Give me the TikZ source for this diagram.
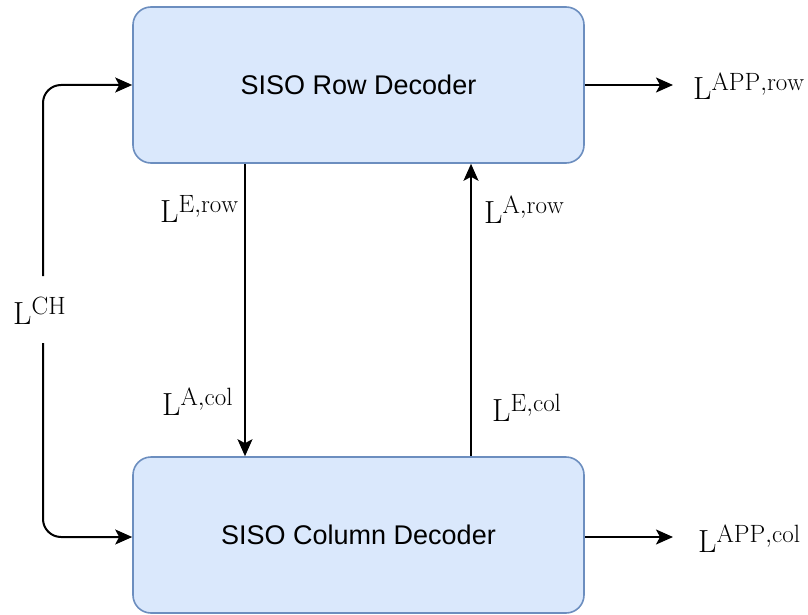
\documentclass[tikz,border=0pt]{standalone}
\usepackage{fontspec}
\newfontfamily\arialf{Liberation Sans}
\DeclareMathSizes{32}{32}{25}{18}
\usetikzlibrary{arrows.meta}
\definecolor{boxfill}{HTML}{DAE8FC}
\definecolor{boxdraw}{HTML}{6C8EBF}
\begin{document}
\begin{tikzpicture}[x=1pt,y=-1pt,
 decoder/.style={draw=boxdraw, fill=boxfill, line width=1.6pt, rounded corners=18pt, minimum width=451pt, minimum height=156pt, inner sep=0pt, font=\arialf\fontsize{27}{32}\selectfont},
 arr/.style={-{Stealth[length=17pt,width=15pt,inset=4pt]}, line width=2pt},
 lab/.style={anchor=base west, inner sep=0pt, font=\fontsize{32}{38}\selectfont}]
\useasboundingbox (0,0) rectangle (808,615);
\node[decoder] (row) at (358.5,85) {SISO Row Decoder};
\node[decoder] (col) at (358.5,535) {SISO Column Decoder};
% vertical connectors
\coordinate (dn) at (245,0);
\coordinate (up) at (471,0);
\draw[arr] (dn |- row.south) -- (dn |- col.north);
\draw[arr] (up |- col.north) -- (up |- row.south);
% outputs
\coordinate (apprt) at (673,85);
\coordinate (appct) at (673,537);
\draw[arr] (row.east) -- (apprt);
\draw[arr] (col.east |- appct) -- (appct);
% channel input
\coordinate (chu) at (43,276);
\coordinate (chd) at (43,343);
\draw[arr, rounded corners=18pt] (chu) |- (row.west);
\draw[arr, rounded corners=18pt] (chd) |- (col.west |- appct);
% labels
\node[lab] (ch) at (13,324) {$\mathrm{L}^{\mathrm{CH}}$};
\node[lab] (erow) at (160,222) {$\mathrm{L}^{\mathrm{E,row}}$};
\node[lab] (arow) at (484,223) {$\mathrm{L}^{\mathrm{A,row}}$};
\node[lab] (acol) at (162,415) {$\mathrm{L}^{\mathrm{A,col}}$};
\node[lab] (ecol) at (492,421) {$\mathrm{L}^{\mathrm{E,col}}$};
\node[lab] (approw) at (693,100) {$\mathrm{L}^{\mathrm{APP,row}}$};
\node[lab] (appcol) at (698,552) {$\mathrm{L}^{\mathrm{APP,col}}$};
\end{tikzpicture}
\end{document}
